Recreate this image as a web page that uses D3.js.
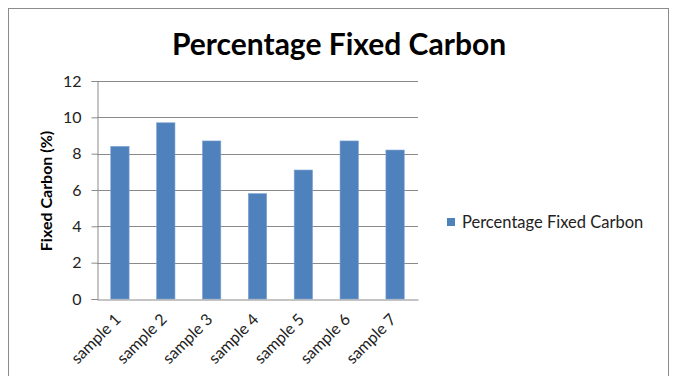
<!DOCTYPE html>
<html>
<head>
<meta charset="utf-8">
<script src="https://cdn.jsdelivr.net/npm/d3@7"></script>
<style>
  html, body { margin: 0; padding: 0; background: #fff; }
  svg { display: block; font-family: Lato, "Open Sans", sans-serif; }
</style>
</head>
<body>
<svg id="chart" width="674" height="376"></svg>
<script>
// Fixed carbon content per sample (%)
const categories = ["sample 1", "sample 2", "sample 3", "sample 4", "sample 5", "sample 6", "sample 7"];
const fixedCarbon = [8.4, 9.7, 8.7, 5.8, 7.1, 8.7, 8.2];
const yTicks = [0, 2, 4, 6, 8, 10, 12];
const seriesName = "Percentage Fixed Carbon";
const chartTitle = "Percentage Fixed Carbon";
const yAxisTitle = "Fixed Carbon (%)";

const svg = d3.select("#chart");
const plot = { left: 97, right: 418, top: 81, bottom: 299 };
const barColor = "#4f81bd";

// Outer chart frame
svg.append("rect")
  .attr("x", 8.5).attr("y", 8.5)
  .attr("width", 660).attr("height", 380)
  .attr("fill", "#fff").attr("stroke", "#8c8c8c").attr("stroke-width", 1);

const x = d3.scaleBand().domain(categories)
  .range([plot.left, plot.right]).paddingInner(0.6).paddingOuter(0.3);
const y = d3.scaleLinear().domain([0, 12]).range([plot.bottom, plot.top]);

// Horizontal gridlines
svg.append("g").selectAll("line").data(yTicks.filter(d => d > 0)).join("line")
  .attr("x1", plot.left).attr("x2", plot.right)
  .attr("y1", d => Math.round(y(d)) + 0.5).attr("y2", d => Math.round(y(d)) + 0.5)
  .attr("stroke", "#8a8a8a").attr("stroke-width", 1);

// Y axis
const yAxis = svg.append("g")
  .attr("transform", `translate(${plot.left + 0.5},0)`)
  .call(d3.axisLeft(y).tickValues(yTicks).tickSize(6).tickPadding(10).tickFormat(d3.format("d")));
yAxis.select(".domain").attr("stroke", "#8a8a8a");
yAxis.selectAll(".tick line").attr("stroke", "#8a8a8a");
yAxis.selectAll(".tick text")
  .attr("font-size", 16).attr("fill", "#222")
  .attr("font-family", "Lato, sans-serif");

// Bars
svg.append("g").selectAll("rect").data(categories).join("rect")
  .attr("x", d => x(d))
  .attr("y", (d, i) => y(fixedCarbon[i]))
  .attr("width", x.bandwidth())
  .attr("height", (d, i) => y(0) - y(fixedCarbon[i]))
  .attr("fill", barColor)
  .attr("stroke", "#7ea3d3").attr("stroke-width", 0.6);

// X axis baseline and rotated category labels
const xAxis = svg.append("g")
  .attr("transform", `translate(0,${plot.bottom + 0.5})`)
  .call(d3.axisBottom(x).tickSize(0).tickPadding(0));
xAxis.select(".domain").attr("stroke", "#8a8a8a");
xAxis.selectAll(".tick text")
  .attr("font-size", 16).attr("fill", "#222")
  .attr("font-family", "Lato, sans-serif")
  .attr("text-anchor", "end")
  .attr("dy", 0)
  .attr("transform", "translate(2,21) rotate(-45)");

// Title
svg.append("text")
  .attr("x", 339).attr("y", 55)
  .attr("text-anchor", "middle")
  .attr("font-size", 30).attr("font-weight", "bold").attr("fill", "#000")
  .text(chartTitle);

// Y axis title
svg.append("text")
  .attr("transform", `translate(52,${(plot.top + plot.bottom) / 2 + 1}) rotate(-90)`)
  .attr("text-anchor", "middle")
  .attr("font-size", 16).attr("font-weight", "bold").attr("fill", "#000")
  .text(yAxisTitle);

// Legend
const legend = svg.append("g").attr("transform", "translate(447,218)");
legend.append("rect").attr("width", 8).attr("height", 8).attr("fill", barColor);
legend.append("text").attr("x", 15).attr("y", 9.5)
  .attr("font-size", 16.5).attr("fill", "#222")
  .text(seriesName);
</script>
</body>
</html>
